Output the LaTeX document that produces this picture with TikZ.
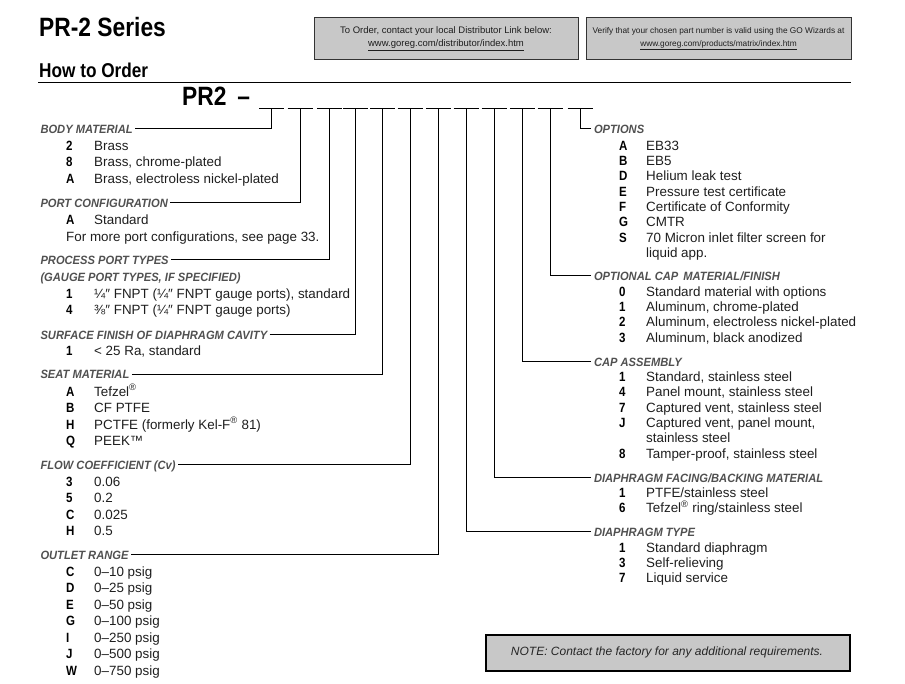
\documentclass[tikz,border=0pt]{standalone}
\usepackage{fontspec}
\setmainfont{Liberation Sans}
\newfontfamily\condfont[FakeStretch=0.86]{Liberation Sans}
\newfontfamily\headfontfam[FakeStretch=0.93]{Liberation Sans}
\definecolor{headgray}{HTML}{505050}
\definecolor{bodyc}{HTML}{1E1E1E}
\definecolor{boxgray}{HTML}{C8C8C8}
\begin{document}
\begin{tikzpicture}[x=1pt,y=-1pt,
  hd/.style={anchor=base west, inner sep=0pt, outer xsep=2.5pt,
    font=\headfontfam\bfseries\itshape\fontsize{12}{12}\selectfont, text=headgray,
    text height=8.6pt, text depth=0pt},
  hdr/.style={hd, outer xsep=3pt},
  cd/.style={anchor=base west, inner sep=0pt, font=\condfont\bfseries\fontsize{13.4}{13.4}\selectfont, text=black},
  itm/.style={anchor=base west, inner sep=0pt, font=\fontsize{13.4}{13.4}\selectfont, text=bodyc},
  conn/.style={draw=black, line width=0.9pt},
  blank/.style={draw=black, line width=0.8pt},
  infobox/.style={draw=black!80, line width=1pt, fill=boxgray},
]
\useasboundingbox (0,0) rectangle (905,683);
% titles
\node[anchor=base west, inner sep=0pt, font=\condfont\bfseries\fontsize{26.5}{26.5}\selectfont] (title) at (39,36.7) {PR-2 Series};
\node[anchor=base west, inner sep=0pt, font=\condfont\bfseries\fontsize{20}{20}\selectfont] (howto) at (39,77.7) {How to Order};
\draw[line width=1pt] (38,82.3) -- (851,82.3);
\node[anchor=base west, inner sep=0pt, font=\condfont\bfseries\fontsize{26.5}{26.5}\selectfont] (pr2) at (182,105) {PR2 \,–};
% top info boxes
\node[infobox, minimum width=264pt, minimum height=42pt, anchor=north west] (box1) at (314,17) {};
\node[anchor=center, inner sep=0pt, font=\fontsize{9.5}{9.5}\selectfont, text=bodyc] (b1t) at (446,31) {To Order, contact your local Distributor Link below:};
\node[anchor=center, inner sep=0pt, font=\fontsize{9.5}{9.5}\selectfont, text=bodyc] (b1u) at (446,45) {\underline{www.goreg.com/distributor/index.htm}};
\node[infobox, minimum width=265pt, minimum height=42pt, anchor=north west] (box2) at (586,17) {};
\node[anchor=center, inner sep=0pt, font=\fontsize{8.3}{8.3}\selectfont, text=bodyc] (b2t) at (718.5,31) {Verify that your chosen part number is valid using the GO Wizards at};
\node[anchor=center, inner sep=0pt, font=\fontsize{8.3}{8.3}\selectfont, text=bodyc] (b2u) at (718.5,45) {\underline{www.goreg.com/products/matrix/index.htm}};
% blanks and their connection points
\foreach \i/\xx in {1/271.7,2/300,3/329.3,4/355.5,5/382.5,6/410,7/438.3,8/466,9/494,10/522.3,11/550,12/580}{
  \coordinate (p\i) at (\xx,108);
  \draw[blank] (\xx-12.5,108) -- (\xx+12.5,108);
}
% ---------- left column ----------
\node[hd] (hBody) at (38,133) {BODY MATERIAL};
\foreach \c/\t/\yy [count=\k] in {2/Brass/150, 8/{Brass, chrome-plated}/166.5, A/{Brass, electroless nickel-plated}/183}{
  \node[cd] (bc\k) at (66,\yy) {\c};
  \node[itm] (bt\k) at (94,\yy) {\t};
}
\node[hd] (hPort) at (38,207) {PORT CONFIGURATION};
\node[cd] (pc1) at (66,224) {A};
\node[itm] (pt1) at (94,224) {Standard};
\node[itm] (pt2) at (66,241) {For more port configurations, see page 33.};
\node[hd] (hProc) at (38,264) {PROCESS PORT TYPES};
\node[hd] (hGauge) at (38,281) {(GAUGE PORT TYPES, IF SPECIFIED)};
\node[cd] (rc1) at (66,298) {1};
\node[itm] (rt1) at (94,298) {¼″ FNPT (¼″ FNPT gauge ports), standard};
\node[cd] (rc2) at (66,314.5) {4};
\node[itm] (rt2) at (94,314.5) {⅜″ FNPT (¼″ FNPT gauge ports)};
\node[hd] (hSurf) at (38,339) {SURFACE FINISH OF DIAPHRAGM CAVITY};
\node[cd] (sc1) at (66,355.5) {1};
\node[itm] (st1) at (94,355.5) {< 25 Ra, standard};
\node[hd] (hSeat) at (38,378.5) {SEAT MATERIAL};
\foreach \c/\t/\yy [count=\k] in {A/{Tefzel\textsuperscript{®}}/396, B/{CF PTFE}/412.5, H/{PCTFE (formerly Kel-F\textsuperscript{®} 81)}/429, Q/{PEEK™}/445.5}{
  \node[cd] (ec\k) at (66,\yy) {\c};
  \node[itm] (et\k) at (94,\yy) {\t};
}
\node[hd] (hFlow) at (38,469) {FLOW COEFFICIENT (Cv)};
\foreach \c/\t/\yy [count=\k] in {3/0.06/486, 5/0.2/502.5, C/0.025/519, H/0.5/535.5}{
  \node[cd] (fc\k) at (66,\yy) {\c};
  \node[itm] (ft\k) at (94,\yy) {\t};
}
\node[hd] (hOut) at (38,559) {OUTLET RANGE};
\foreach \c/\t/\yy [count=\k] in {C/{0–10 psig}/576, D/{0–25 psig}/592.5, E/{0–50 psig}/609, G/{0–100 psig}/625.5, I/{0–250 psig}/642, J/{0–500 psig}/658.5, W/{0–750 psig}/675}{
  \node[cd] (oc\k) at (66,\yy) {\c};
  \node[itm] (ot\k) at (94,\yy) {\t};
}
% ---------- right column ----------
\node[hdr] (hOpt) at (591,133) {OPTIONS};
\foreach \c/\t/\yy [count=\k] in {A/EB33/150, B/EB5/165.3, D/{Helium leak test}/180.6, E/{Pressure test certificate}/196, F/{Certificate of Conformity}/211.3, G/CMTR/226.6, S/{70 Micron inlet filter screen for}/242}{
  \node[cd] (qc\k) at (619,\yy) {\c};
  \node[itm] (qt\k) at (646,\yy) {\t};
}
\node[itm] (qt8) at (646,257.5) {liquid app.};
\node[hdr] (hCapM) at (591,280) {OPTIONAL CAP\, MATERIAL/FINISH};
\foreach \c/\t/\yy [count=\k] in {0/{Standard material with options}/296, 1/{Aluminum, chrome-plated}/311.3, 2/{Aluminum, electroless nickel-plated}/326.6, 3/{Aluminum, black anodized}/342}{
  \node[cd] (mc\k) at (619,\yy) {\c};
  \node[itm] (mt\k) at (646,\yy) {\t};
}
\node[hdr] (hCapA) at (591,366) {CAP ASSEMBLY};
\foreach \c/\t/\yy [count=\k] in {1/{Standard, stainless steel}/381.3, 4/{Panel mount, stainless steel}/396.6, 7/{Captured vent, stainless steel}/412, J/{Captured vent, panel mount,}/427.3}{
  \node[cd] (ac\k) at (619,\yy) {\c};
  \node[itm] (at\k) at (646,\yy) {\t};
}
\node[itm] (at5) at (646,442.6) {stainless steel};
\node[cd] (ac6) at (619,458) {8};
\node[itm] (at6) at (646,458) {Tamper-proof, stainless steel};
\node[hdr] (hFace) at (591,482) {DIAPHRAGM FACING/BACKING MATERIAL};
\node[cd] (dc1) at (619,497.3) {1};
\node[itm] (dt1) at (646,497.3) {PTFE/stainless steel};
\node[cd] (dc2) at (619,512.6) {6};
\node[itm] (dt2) at (646,512.6) {Tefzel\textsuperscript{®} ring/stainless steel};
\node[hdr] (hType) at (591,536) {DIAPHRAGM TYPE};
\foreach \c/\t/\yy [count=\k] in {1/{Standard diaphragm}/552, 3/{Self-relieving}/567.3, 7/{Liquid service}/582.6}{
  \node[cd] (tc\k) at (619,\yy) {\c};
  \node[itm] (tt\k) at (646,\yy) {\t};
}
% ---------- connectors ----------
\draw[conn] (hBody.east) -| (p1);
\draw[conn] (hPort.east) -| (p2);
\draw[conn] (hProc.east) -| (p3);
\draw[conn] (hSurf.east) -| (p4);
\draw[conn] (hSeat.east) -| (p5);
\draw[conn] (hFlow.east) -| (p6);
\draw[conn] (hOut.east) -| (p7);
\draw[conn] (hType.west) -| (p8);
\draw[conn] (hFace.west) -| (p9);
\draw[conn] (hCapA.west) -| (p10);
\draw[conn] (hCapM.west) -| (p11);
\draw[conn] (hOpt.west) -| (p12);
% note box
\node[draw=black, line width=2pt, fill=boxgray, minimum width=364pt, minimum height=36pt, anchor=north west] (notebox) at (485,634) {};
\node[anchor=center, inner sep=0pt, font=\itshape\fontsize{12}{12}\selectfont, text=black!85] (notet) at (667,652) {NOTE: Contact the factory for any additional requirements.};
\end{tikzpicture}
\end{document}
